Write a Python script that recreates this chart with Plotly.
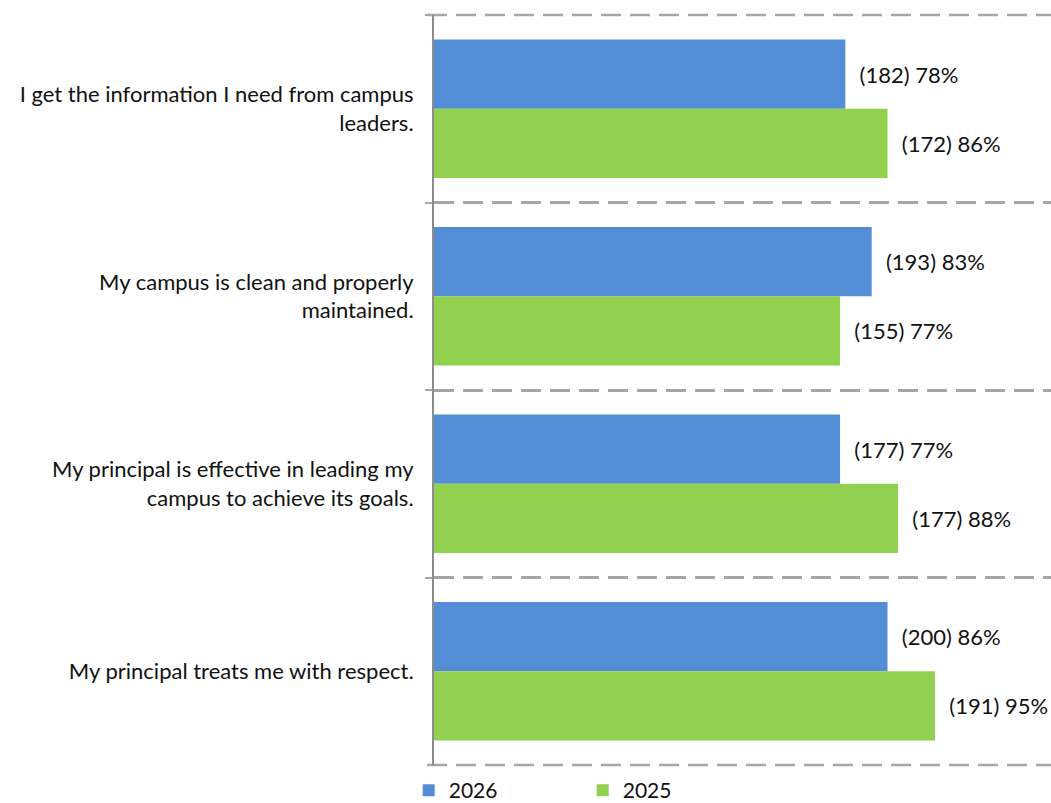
import plotly.graph_objects as go

# Survey statements (top to bottom)
statements = [
    "I get the information I need from campus<br>leaders.",
    "My campus is clean and properly<br>maintained.",
    "My principal is effective in leading my<br>campus to achieve its goals.",
    "My principal treats me with respect.",
]

# Agreement rates (%) and respondent counts per year
pct_2026 = [78, 83, 77, 86]
n_2026 = [182, 193, 177, 200]
pct_2025 = [86, 77, 88, 95]
n_2025 = [172, 155, 177, 191]

FONT = "Lato, Open Sans, sans-serif"
label_font = dict(family=FONT, size=22, color="#111111")
GRID = "#A6A6A6"
DASH = "20px,9px"

plot_w = 1051 - 434  # width of plotting area in pixels


def bar_text(ns, ps):
    return ["\u00a0\u00a0(%d) %d%%" % (n, p) for n, p in zip(ns, ps)]


fig = go.Figure()
fig.add_trace(go.Bar(
    name="2026", y=statements, x=pct_2026, orientation="h",
    marker=dict(color="#538DD5", line=dict(width=0)),
    text=bar_text(n_2026, pct_2026), textposition="outside",
    textfont=label_font, cliponaxis=False,
))
fig.add_trace(go.Bar(
    name="2025", y=statements, x=pct_2025, orientation="h",
    marker=dict(color="#92D050", line=dict(width=0)),
    text=bar_text(n_2025, pct_2025), textposition="outside",
    textfont=label_font, cliponaxis=False,
))

# dashed rules along the top and bottom edges of the plotting area
for yy in (0, 1):
    fig.add_shape(
        type="line", xref="paper", yref="paper",
        x0=-7 / plot_w, x1=1, y0=yy, y1=yy,
        line=dict(color=GRID, width=2.5, dash=DASH), layer="below",
    )

fig.update_layout(
    width=1051, height=803,
    margin=dict(l=434, r=0, t=15, b=38, autoexpand=False),
    paper_bgcolor="white", plot_bgcolor="white",
    barmode="group", bargap=0.262, bargroupgap=0,
    font=label_font,
    showlegend=True,
    legend=dict(
        orientation="h", x=-0.041, xanchor="left", y=-0.034, yanchor="middle",
        font=dict(family=FONT, size=21, color="#111111"),
        entrywidth=129, entrywidthmode="pixels", itemwidth=30,
        traceorder="normal",
    ),
)
fig.update_xaxes(
    range=[0, 117], visible=False, showgrid=False, zeroline=False,
)
fig.update_yaxes(
    autorange="reversed", tickson="boundaries",
    showgrid=True, gridcolor=GRID, gridwidth=2.5, griddash=DASH,
    ticks="outside", ticklen=7, tickcolor=GRID, tickwidth=2,
    showline=True, linecolor="#8C8C8C", linewidth=2,
    ticklabelstandoff=14,
    tickfont=label_font,
)

fig.write_html("out.html")
